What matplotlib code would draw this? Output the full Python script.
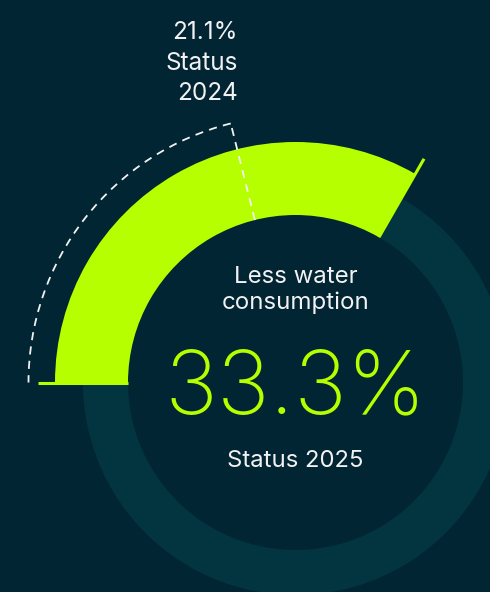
import numpy as np
import matplotlib
matplotlib.use("Agg")
import matplotlib.pyplot as plt
from matplotlib.patches import Wedge, Arc

# Data
value_2025 = 33.3
value_2024 = 21.1
label_main = "Less water\nconsumption"
label_2025 = "Status 2025"
label_2024 = "21.1%\nStatus\n2024"

BG = "#022533"
RING = "#02353f"
GREEN = "#b5ff00"
WHITE = "#f2f2f2"

W, H = 490, 592
fig = plt.figure(figsize=(W / 100, H / 100), dpi=100, facecolor=BG)
ax = fig.add_axes([0, 0, 1, 1])
ax.set_xlim(0, W)
ax.set_ylim(0, H)
ax.set_aspect("equal")
ax.axis("off")
ax.set_facecolor(BG)

cx, cy = 295.5, H - 382.5
r_in = 167.5
r_ring = 212.5
r_green = 240.5
r_tick = 258
r_dash = 267

def ang(v):
    return 180 - v * 3.6

# background ring
ax.add_patch(Wedge((cx, cy), r_ring, 0, 360, width=r_ring - r_in, facecolor=RING, edgecolor="none"))

# green arc
a_end = ang(value_2025)
ax.add_patch(Wedge((cx, cy), r_green, a_end, 180, width=r_green - r_in, facecolor=GREEN, edgecolor="none"))
for a in (a_end, 180):
    t = np.radians(a)
    ax.plot([cx + r_in * np.cos(t), cx + r_tick * np.cos(t)],
            [cy + r_in * np.sin(t), cy + r_tick * np.sin(t)],
            color=GREEN, lw=2.2, solid_capstyle="butt")

# dashed 2024 marker
a24 = ang(value_2024)
ax.add_patch(Arc((cx, cy), 2 * r_dash, 2 * r_dash, theta1=a24, theta2=180,
                 color=WHITE, lw=1.3, linestyle=(0, (4.5, 3.5))))
t = np.radians(a24)
ax.plot([cx + r_in * np.cos(t), cx + r_dash * np.cos(t)],
        [cy + r_in * np.sin(t), cy + r_dash * np.sin(t)],
        color=WHITE, lw=1.3, linestyle=(0, (4.5, 3.5)))

font = ["Inter", "DejaVu Sans"]
ax.text(238, H - 63, label_2024, ha="right", va="center", color=WHITE,
        fontsize=17.5, family=font, linespacing=1.4)
ax.text(cx, H - 290, label_main, ha="center", va="center", color=WHITE,
        fontsize=17.3, family=font, linespacing=1.25)
ax.text(cx, H - 390, f"{value_2025}%", ha="center", va="center", color=GREEN,
        fontsize=64, family=font, fontweight="light")
ax.text(cx, H - 461, label_2025, ha="center", va="center", color=WHITE,
        fontsize=17.2, family=font)

fig.savefig("out.png", dpi=100, facecolor=BG)
